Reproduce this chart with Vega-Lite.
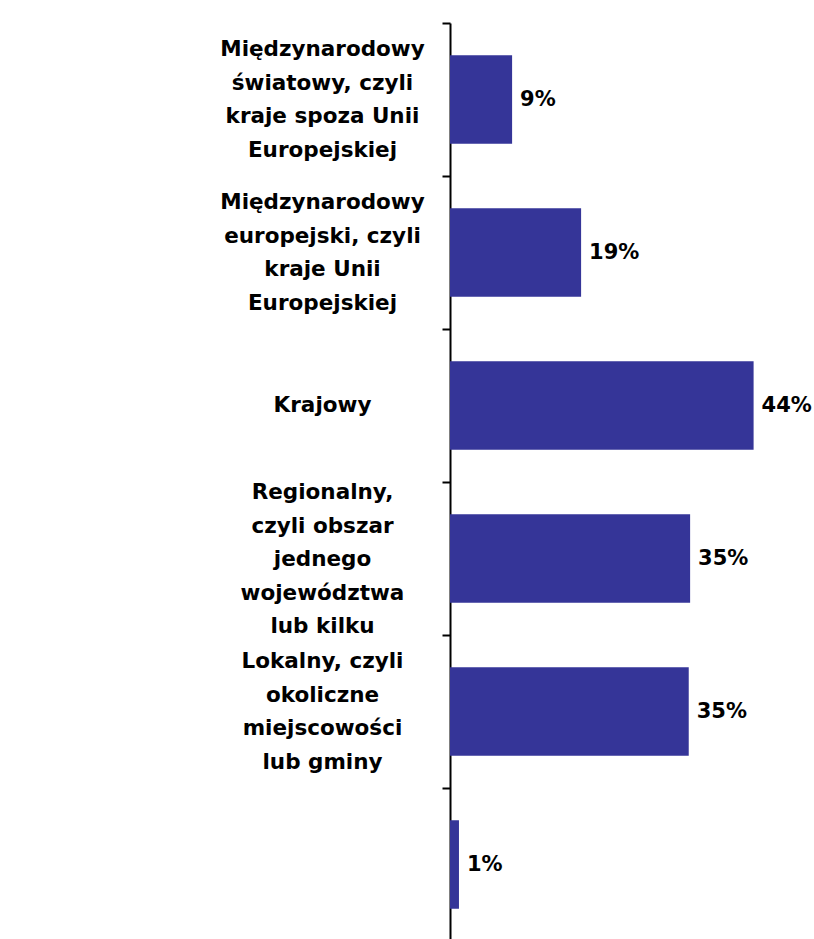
{
  "$schema": "https://vega.github.io/schema/vega-lite/v6.json",
  "autosize": {"type": "none"},
  "padding": {"left": 450, "top": 23, "right": 19, "bottom": 0},
  "width": 345,
  "height": 918,
  "background": "white",
  "config": {
    "view": {"stroke": null},
    "font": "DejaVu Sans"
  },
  "data": {
    "values": [
      {"kategoria": "Międzynarodowy|światowy, czyli|kraje spoza Unii|Europejskiej", "procent": 9},
      {"kategoria": "Międzynarodowy|europejski, czyli|kraje Unii|Europejskiej", "procent": 19},
      {"kategoria": "Krajowy", "procent": 44},
      {"kategoria": "Regionalny,|czyli obszar|jednego|województwa|lub kilku", "procent": 34.8},
      {"kategoria": "Lokalny, czyli|okoliczne|miejscowości|lub gminy", "procent": 34.6},
      {"kategoria": " ", "procent": 1.3}
    ]
  },
  "encoding": {
    "y": {
      "field": "kategoria",
      "type": "nominal",
      "sort": null,
      "title": null,
      "scale": {"paddingInner": 0, "paddingOuter": 0},
      "axis": {
        "orient": "left",
        "domainColor": "black",
        "domainWidth": 2,
        "tickColor": "black",
        "tickWidth": 2,
        "tickSize": 8,
        "tickBand": "extent",
        "labelExpr": "split(datum.label, '|')",
        "labelAlign": "center",
        "labelBaseline": "middle",
        "labelPadding": 120,
        "labelLimit": 400,
        "labelFont": "DejaVu Sans",
        "labelFontSize": 21.5,
        "labelFontWeight": "bold",
        "labelColor": "black",
        "labelLineHeight": 33.5,
        "labelOffset": {
          "condition": [
            {"test": "length(split(datum.value, '|')) == 4", "value": -50},
            {"test": "length(split(datum.value, '|')) == 5", "value": -66}
          ],
          "value": 0
        }
      }
    },
    "x": {
      "field": "procent",
      "type": "quantitative",
      "scale": {"domain": [0, 50]},
      "axis": null
    }
  },
  "layer": [
    {"mark": {"type": "bar", "color": "#353598", "height": {"band": 0.58}}},
    {
      "transform": [{"calculate": "format(datum.procent, '.0f') + '%'", "as": "etykieta"}],
      "mark": {"type": "text", "align": "left", "baseline": "middle", "dx": 8, "font": "DejaVu Sans", "fontSize": 21, "fontWeight": "bold", "color": "black"},
      "encoding": {
        "text": {"field": "etykieta", "type": "nominal"}
      }
    }
  ]
}
